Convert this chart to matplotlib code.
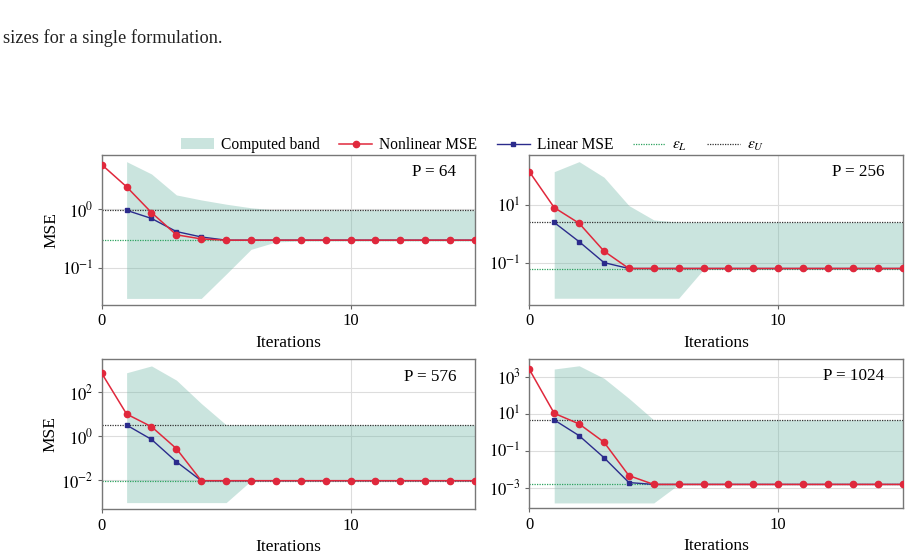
import numpy as np
import matplotlib
matplotlib.use("Agg")
import matplotlib.pyplot as plt

plt.rcParams['font.family'] = ['Liberation Serif', 'DejaVu Serif']
plt.rcParams['mathtext.fontset'] = 'stix'

# ---------------- data ----------------
iters = list(range(16))          # 0..15
iters_lin = list(range(1, 16))   # 1..15

titles = ["P = 64", "P = 256", "P = 576", "P = 1024"]

nonlinear_64 = [5.7, 2.4, 0.88, 0.37, 0.315] + [0.30] * 11
linear_64 = [0.96, 0.70, 0.42, 0.34] + [0.30] * 11
band_lo_64 = [0.031, 0.031, 0.031, 0.031, 0.08, 0.21, 0.28] + [0.29] * 8
band_hi_64 = [6.4, 3.96, 1.75, 1.44, 1.22, 1.06] + [0.97] * 9
eps_L_64, eps_U_64 = 0.30, 0.97

nonlinear_256 = [138, 8.1, 2.35, 0.26] + [0.066] * 12
linear_256 = [2.5, 0.55, 0.105] + [0.066] * 12
band_lo_256 = [0.0063] * 6 + [0.062] * 9
band_hi_256 = [138, 305, 89, 9.5, 3.06] + [2.55] * 10
eps_L_256, eps_U_256 = 0.065, 2.55

nonlinear_576 = [740, 10.2, 2.7, 0.27] + [0.0093] * 12
linear_576 = [3.2, 0.71, 0.068] + [0.0093] * 12
band_lo_576 = [9.3e-4] * 5 + [0.0093] * 10
band_hi_576 = [780, 1600, 360, 31] + [3.3] * 11
eps_L_576, eps_U_576 = 0.0093, 3.3

nonlinear_1024 = [2500, 10.5, 2.8, 0.29, 0.0045] + [0.0015] * 11
linear_1024 = [4.6, 0.65, 0.042, 0.0019] + [0.0015] * 11
band_lo_1024 = [1.5e-4] * 5 + [0.0015] * 10
band_hi_1024 = [2600, 3900, 820, 68] + [4.6] * 11
eps_L_1024, eps_U_1024 = 0.0015, 4.6

panels = [
    (nonlinear_64, linear_64, band_lo_64, band_hi_64, eps_L_64, eps_U_64),
    (nonlinear_256, linear_256, band_lo_256, band_hi_256, eps_L_256, eps_U_256),
    (nonlinear_576, linear_576, band_lo_576, band_hi_576, eps_L_576, eps_U_576),
    (nonlinear_1024, linear_1024, band_lo_1024, band_hi_1024, eps_L_1024, eps_U_1024),
]

ylims = [(0.024, 8.4), (0.0037, 528), (4.6e-4, 3200), (7.7e-5, 8700)]
ytick_exps = [[-1, 0], [-1, 1], [-2, 0, 2], [-3, -1, 1, 3]]

# ---------------- figure ----------------
fig = plt.figure(figsize=(9.09, 5.59), dpi=100)

fig.text(0.003, 0.932, "sizes for a single formulation.", fontsize=13.2,
         ha='left', va='center', color='#222222')

positions = [
    [0.1119, 0.4544, 0.4107, 0.2689],
    [0.5823, 0.4544, 0.4108, 0.2689],
    [0.1119, 0.0889, 0.4107, 0.2683],
    [0.5823, 0.0907, 0.4108, 0.2665],
]

red = '#e0283c'
navy = '#2b2b8c'
band_color = '#69b3a2'

handles = None
for i, (pos, data, title, ylim, exps) in enumerate(zip(positions, panels, titles, ylims, ytick_exps)):
    nl, lin, lo, hi, epsL, epsU = data
    ax = fig.add_axes(pos)
    ax.set_yscale('log')
    hb = ax.fill_between(iters_lin, lo, hi, color=band_color, alpha=0.35,
                         linewidth=0, label='Computed band', zorder=1)
    hl = ax.plot(iters_lin, lin, color=navy, marker='s', markersize=3.5,
                 linewidth=1.0, label='Linear MSE', zorder=3)[0]
    hn = ax.plot(iters, nl, color=red, marker='o', markersize=4.5,
                 linewidth=1.1, label='Nonlinear MSE', zorder=4)[0]
    he1 = ax.axhline(epsL, color='#2ca25f', linestyle=(0, (1, 1)), linewidth=0.9,
                     label=r'$\varepsilon_L$', zorder=2)
    he2 = ax.axhline(epsU, color='#333333', linestyle=(0, (1, 1)), linewidth=0.9,
                     label=r'$\varepsilon_U$', zorder=2)
    if handles is None:
        handles = [hb, hn, hl, he1, he2]

    ax.set_xlim(0, 15)
    ax.set_ylim(*ylim)
    ax.set_xticks([0, 10])
    ax.set_yticks([10.0 ** e for e in exps])
    ax.set_yticklabels([r'$10^{%d}$' % e for e in exps])
    ax.yaxis.set_minor_locator(matplotlib.ticker.NullLocator())
    ax.grid(True, which='major', color='#dddddd', linewidth=0.8, zorder=0)
    ax.set_axisbelow(True)
    ax.tick_params(labelsize=12, length=3, width=0.8, color='#666666', pad=3)
    for s in ax.spines.values():
        s.set_color('#777777')
        s.set_linewidth(1.0)
    ax.set_xlabel('Iterations', fontsize=12.5)
    if i % 2 == 0:
        ax.set_ylabel('MSE', fontsize=12.5, labelpad=2)
    ax.text(0.95, 0.885, title, transform=ax.transAxes, ha='right', va='center',
            fontsize=12.3)

fig.legend(handles=handles,
           labels=['Computed band', 'Nonlinear MSE', 'Linear MSE',
                   r'$\varepsilon_L$', r'$\varepsilon_U$'],
           loc='center left', bbox_to_anchor=(181 / 909, 1 - 145 / 559), ncol=5,
           frameon=False, fontsize=11.2, handlelength=2.1, columnspacing=1.27,
           handletextpad=0.45, borderaxespad=0, borderpad=0)

fig.savefig('out.png', dpi=100)
